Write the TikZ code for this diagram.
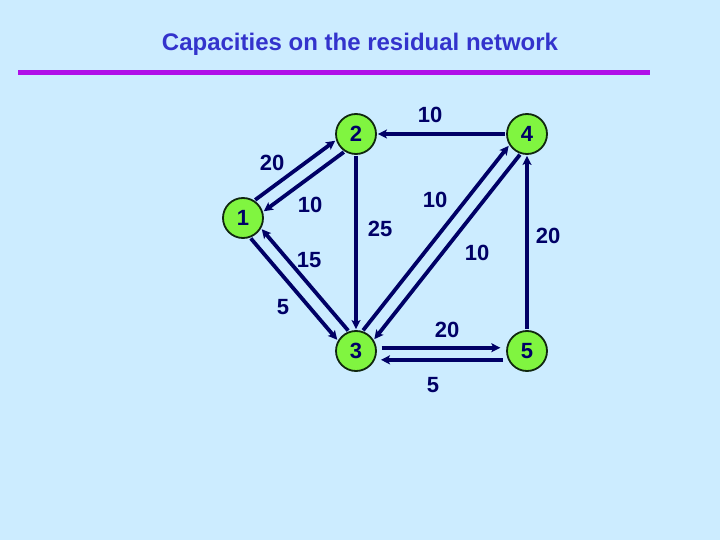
\documentclass[tikz,border=0pt]{standalone}
\usepackage{fontspec}
\setmainfont{Liberation Sans}
\usetikzlibrary{arrows.meta}
\definecolor{rnback}{RGB}{204,236,255}
\definecolor{rntitle}{RGB}{51,51,204}
\definecolor{rnrule}{RGB}{176,16,232}
\definecolor{rnnavy}{RGB}{0,0,102}
\definecolor{rngreen}{RGB}{128,245,64}
\definecolor{rnrim}{RGB}{16,40,16}

\begin{document}
\begin{tikzpicture}[x=1pt,y=-1pt,>={Stealth[length=9pt,width=9pt,inset=2pt]},
    vtx/.style={circle,draw=rnrim,line width=1.8pt,fill=rngreen,minimum size=40pt,inner sep=0pt,text=rnnavy,font=\fontsize{22}{24}\selectfont\bfseries},
    arc/.style={->,rnnavy,line width=3.8pt,shorten <=1pt,shorten >=1pt},
    caplbl/.style={text=rnnavy,inner sep=0pt,font=\fontsize{22}{24}\selectfont\bfseries}]
    \fill[rnback] (0,0) rectangle (720,540);
    \node (title) [anchor=base,text=rntitle,font=\fontsize{24}{28}\selectfont\bfseries] at (360,50.5) {Capacities on the residual network};
    \draw[rnrule,line width=5pt] (18,72.5)--(650,72.5);
    \node[vtx] (n1) at (243,218) {1};
    \node[vtx] (n2) at (356,134) {2};
    \node[vtx] (n3) at (356,351) {3};
    \node[vtx] (n4) at (527,134) {4};
    \node[vtx] (n5) at (527,351) {5};
    \draw[arc] (n1.57)--(n2.197); \draw[arc] (n2.237)--(n1.17);
    \draw[arc] (n1.290)--(n3.150); \draw[arc] (n3.110)--(n1.330);
    \draw[arc] (n4.west)--(n2.east);
    \draw[arc] (n2.south)--(n3.north);
    \draw[arc] (n3.72)--(n4.212); \draw[arc] (n4.252)--(n3.32);
    \draw[arc] (n5.north)--(n4.south);
    \draw[arc,shorten <=5pt,shorten >=6pt] (n3.9)--(n5.171); \draw[arc,shorten <=5pt,shorten >=6pt] (n5.205)--(n3.335);
    \node[caplbl] (c12) at (272,163) {20}; \node[caplbl] (c21) at (310,205) {10};
    \node[caplbl] (c13) at (283,307) {5}; \node[caplbl] (c31) at (309,260) {15};
    \node[caplbl] (c42) at (430,115) {10}; \node[caplbl] (c23) at (380,229) {25};
    \node[caplbl] (c34) at (435,200) {10}; \node[caplbl] (c43) at (477,253) {10};
    \node[caplbl] (c54) at (548,236) {20};
    \node[caplbl] (c35) at (447,330) {20}; \node[caplbl] (c53) at (433,385) {5};
  \end{tikzpicture}
\end{document}
